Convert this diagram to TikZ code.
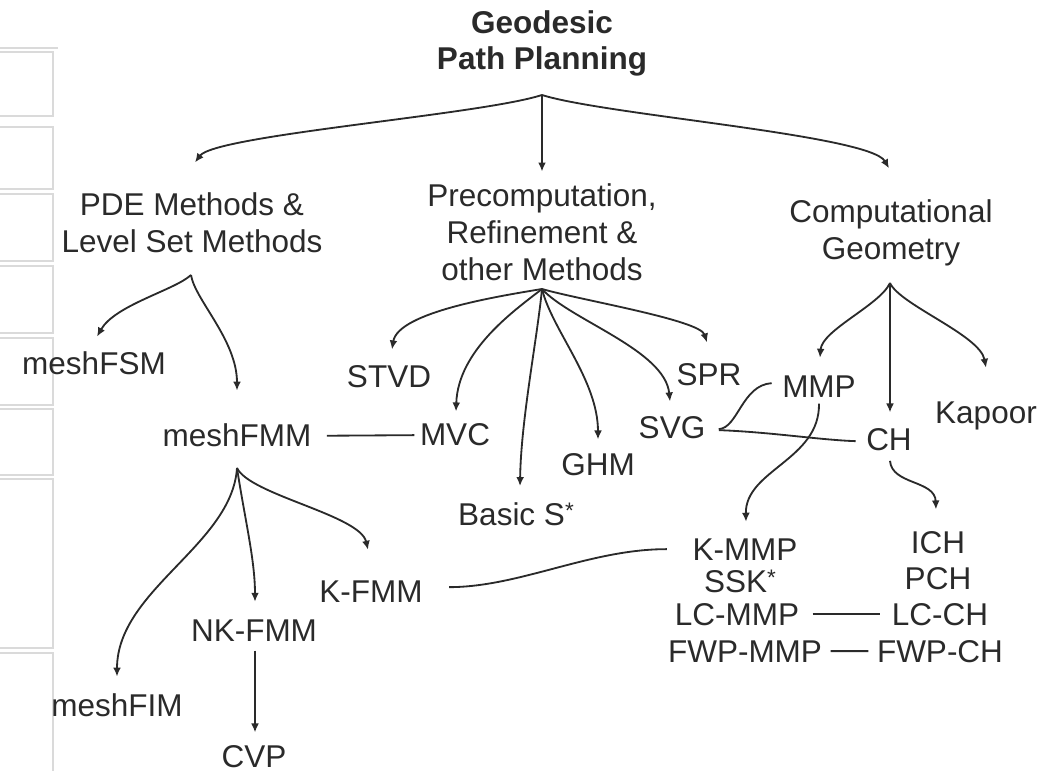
\documentclass[tikz,border=0pt]{standalone}
\usepackage{fontspec}
\setmainfont{Liberation Sans}
\usetikzlibrary{arrows.meta,calc}
\definecolor{mInk}{HTML}{2A2A2A}
\definecolor{mGrid}{HTML}{DADADA}
\newcommand{\smallstar}{{\fontsize{8}{8}\selectfont\raisebox{2.8pt}{*}}}

\begin{document}
\begin{tikzpicture}[x=0.0125cm, y=-0.0125cm, font=\fontsize{11.2}{13.1}\selectfont,
  every node/.style={text=mInk, inner sep=0pt},
  head/.style={align=center, font=\fontsize{11.2}{13.1}\selectfont\bfseries},
  cat/.style={align=center},
  leaf/.style={anchor=base},
  arr/.style={draw=mInk, line width=0.65pt, -{Latex[length=3.2pt,width=2.8pt]}},
  link/.style={draw=mInk, line width=0.65pt},
  cell/.style={draw=mGrid, line width=0.4pt}]
\useasboundingbox (0,0) rectangle (1060,771);
% faint table cells on the left
\draw[cell] (0,48) -- (58,48);
\foreach \ya/\yb in {52/116,127/189,194/261,266/333,338/405,409/475,479/648}
  \draw[cell] (0,\ya) -- (53,\ya) -- (53,\yb) -- (0,\yb);
\draw[cell] (0,653) -- (53,653) -- (53,771);
% root and categories
\node[head] (root) at (542,43.5) {Geodesic\\Path Planning};
\node[cat] (pde) at (192,223) {PDE Methods \&\\Level Set Methods};
\node[cat] (pre) at (542,232.5) {Precomputation,\\Refinement \&\\other Methods};
\node[cat] (geo) at (891,233) {Computational\\Geometry};
% methods
\node[leaf] (meshfsm) at (94,375) {meshFSM};
\node[leaf] (meshfmm) at (237,447) {meshFMM};
\node[leaf] (meshfim) at (117,717) {meshFIM};
\node[leaf] (nkfmm) at (254,642) {NK-FMM};
\node[leaf] (kfmm) at (371,603) {K-FMM};
\node[leaf] (cvp) at (254,768) {CVP};
\node[leaf] (stvd) at (389,388) {STVD};
\node[leaf] (mvc) at (455,446) {MVC};
\node[leaf] (basics) at (516,526) {Basic S\smallstar};
\node[leaf] (ghm) at (598,476) {GHM};
\node[leaf] (svg) at (672,439) {SVG};
\node[leaf] (spr) at (709,386) {SPR};
\node[leaf] (mmp) at (819,398) {MMP};
\node[leaf] (ch) at (889,451) {CH};
\node[leaf] (kapoor) at (986,424) {Kapoor};
\node[leaf] (kmmp) at (745,561) {K-MMP};
\node[leaf] (ssk) at (740,593) {SSK\smallstar};
\node[leaf] (lcmmp) at (737,626) {LC-MMP};
\node[leaf] (fwpmmp) at (745,663) {FWP-MMP};
\node[leaf] (ich) at (938,554) {ICH};
\node[leaf] (pch) at (938,590) {PCH};
\node[leaf] (lcch) at (940,626) {LC-CH};
\node[leaf] (fwpch) at (940,663) {FWP-CH};
% fork points
\coordinate (rootfork) at (542,95);
\coordinate (pdefork) at (191,275);
\coordinate (prefork) at (542,289);
\coordinate (geofork) at (890,283);
\coordinate (fmmfork) at (237,468);
% root to categories
\draw[arr] (rootfork) .. controls (480,115) and (215,135) .. ($(pde.north)+(3,-30)$);
\draw[arr] (rootfork) -- ($(pre.north)+(0,-12)$);
\draw[arr] (rootfork) .. controls (605,115) and (870,135) .. ($(geo.north)+(-2,-31)$);
% PDE branch
\draw[arr] (pdefork) .. controls (175,290) and (115,305) .. ($(meshfsm.north)+(3,-15)$);
\draw[arr] (pdefork) .. controls (195,300) and (237,340) .. ($(meshfmm.north)+(0,-33)$);
\draw[arr] (fmmfork) .. controls (232,545) and (117,590) .. ($(meshfim.north)+(0,-17)$);
\draw[arr] (fmmfork) .. controls (245,520) and (255,560) .. ($(nkfmm.north)+(1,-18)$);
\draw[arr] (fmmfork) .. controls (250,495) and (360,515) .. ($(kfmm.north)+(-3,-31)$);
\draw[arr] ($(nkfmm.south)+(1,8)$) -- ($(cvp.north)+(1,-13)$);
% precomputation branch
\draw[arr] (prefork) .. controls (500,296) and (398,312) .. ($(stvd.north)+(3,-16)$);
\draw[arr] (prefork) .. controls (515,310) and (458,350) .. ($(mvc.north)+(1,-12)$);
\draw[arr] (prefork) .. controls (537,340) and (521,420) .. ($(basics.north)+(4,-16)$);
\draw[arr] (prefork) .. controls (552,330) and (598,380) .. ($(ghm.north)+(0,-14)$);
\draw[arr] (prefork) .. controls (570,320) and (665,350) .. ($(svg.north)+(-2,-15)$);
\draw[arr] (prefork) .. controls (580,300) and (700,320) .. ($(spr.north)+(-2,-21)$);
% geometry branch
\draw[arr] (geofork) .. controls (880,305) and (822,330) .. ($(mmp.north)+(1,-18)$);
\draw[arr] (geofork) -- ($(ch.north)+(1,-16)$);
\draw[arr] (geofork) .. controls (900,305) and (980,335) .. ($(kapoor.north)+(0,-34)$);
\draw[arr] ($(mmp.south)+(0,5)$) .. controls (820,460) and (745,470) .. ($(kmmp.north)+(1,-17)$);
\draw[arr] ($(ch.south)+(1,9)$) .. controls (892,485) and (935,480) .. ($(ich.north)+(-2,-22)$);
% cross links
\draw[link] ($(meshfmm.east)+(15,0)$) -- ($(mvc.west)+(-5,0)$);
\draw[link] ($(svg.east)+(13,1)$) .. controls (738,428) and (742,385) .. ($(mmp.west)+(-10,-4)$);
\draw[link] ($(svg.east)+(13,2)$) .. controls (770,432) and (820,440) .. ($(ch.west)+(-10,1)$);
\draw[link] ($(kfmm.east)+(26,-5)$) .. controls (520,587) and (590,549) .. ($(kmmp.west)+(-25,-1)$);
\draw[link] ($(lcmmp.east)+(13,-1)$) -- ($(lcch.west)+(-11,-1)$);
\draw[link] ($(fwpmmp.east)+(8,-1)$) -- ($(fwpch.west)+(-8,-1)$);
\end{tikzpicture}
\end{document}
